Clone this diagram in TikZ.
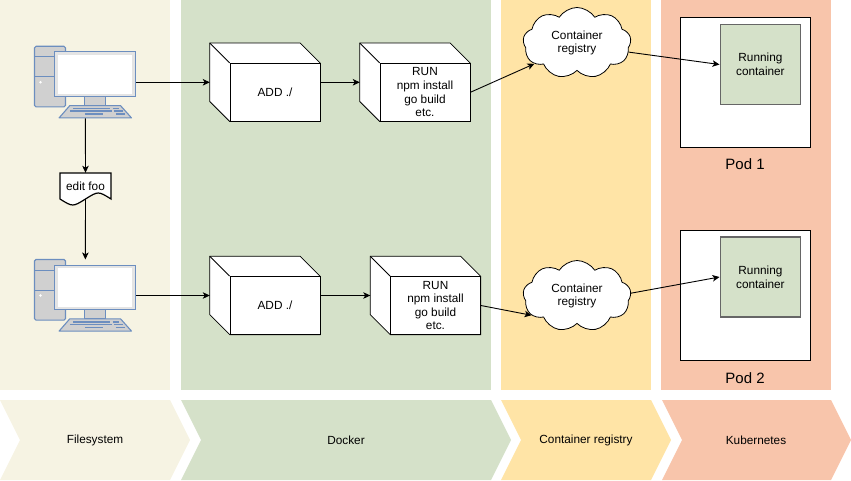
\documentclass[tikz,border=0pt]{standalone}
\usepackage{fontspec}
\setmainfont{Liberation Sans}
\usetikzlibrary{arrows.meta,shapes.symbols,calc}
\definecolor{fscol}{HTML}{F6F3E3}
\definecolor{dkcol}{HTML}{D5E1C9}
\definecolor{rgcol}{HTML}{FFE4A6}
\definecolor{kbcol}{HTML}{F8C5AB}
\definecolor{pcblue}{HTML}{6C8EBF}
\definecolor{pcgrey}{HTML}{D0D0D0}
\definecolor{pcband}{HTML}{E4E4E4}
\definecolor{rungrey}{HTML}{666666}
\tikzset{
  conn/.style={draw=black, line width=0.9pt, -{Stealth[length=7pt,width=6.5pt,inset=1.8pt]}},
  lbl/.style={font=\fontsize{11.8}{13.6}\selectfont, align=center, text=black},
  cubebox/.style={minimum width=110, minimum height=78, inner sep=0},
  cubeline/.style={draw=black, fill=white, line width=0.8pt, line join=miter},
  frontface/.style={lbl, draw=black, fill=white, line width=0.8pt, minimum width=90, minimum height=58, inner sep=0},
  pcbox/.style={minimum width=101.3, minimum height=71.6, inner sep=0},
  pcline/.style={draw=pcblue, line width=1.1pt},
  docbox/.style={lbl, minimum width=51, minimum height=26, inner sep=0},
  cloudbox/.style={lbl, cloud, cloud puffs=9, cloud puff arc=115, cloud ignores aspect, draw=black, fill=white, line width=0.8pt, minimum width=108, minimum height=71, inner sep=0},
  podbox/.style={draw=black, fill=white, line width=0.8pt, minimum width=130.7, minimum height=130, inner sep=0},
  runbox/.style={lbl, draw=rungrey, fill=dkcol, line width=1.1pt, minimum width=80.7, minimum height=80, inner sep=0},
  podlbl/.style={font=\fontsize{15}{18}\selectfont, text=black},
  steplbl/.style={lbl}
}
\newcommand\mycube[4]{%
  \node[cubebox] (#1) at (#2,#3) {};
  \filldraw[cubeline] (#1.north west) -- ([xshift=-20pt]#1.north east) -- ([yshift=-20pt]#1.north east) -- (#1.south east) -- ([xshift=20pt]#1.south west) -- ([yshift=20pt]#1.south west) -- cycle;
  \node[frontface] (#1f) at ([shift={(10pt,-10pt)}]#1.center) {#4};
  \draw[line width=0.8pt] (#1.north west) -- (#1f.north west);
}
\newcommand\mycomputer[3]{%
  \node[pcbox] (#1) at (#2,#3) {};
  \begin{scope}[shift={(#1.north west)}]
    \filldraw[pcline, fill=pcgrey, rounded corners=1.5pt] (0,0) rectangle (31,60.6);
    \draw[pcline] (0,10.6) -- (31,10.6) (0,30.6) -- (31,30.6);
    \fill[white] (6,36) circle (1.4pt);
    \filldraw[pcline, fill=pcband] (19.6,5.6) rectangle (101.3,50);
    \fill[white] (23.6,8.6) rectangle (97.6,47.3);
    \filldraw[pcline, fill=pcgrey] (50.3,50) rectangle (71.3,59.3);
    \filldraw[pcline, fill=pcgrey, line join=round] (35.3,59.3) -- (86,59.3) -- (97,71.6) -- (24.6,71.6) -- cycle;
    \draw[pcblue, line width=1.6pt] (38.6,62.2) -- (75.3,62.2) (78,62.2) -- (84.6,62.2)
      (35.3,65) -- (77,65) (79.3,65) -- (88,65)
      (50.3,68) -- (68,68) (81.3,68) -- (90.3,68);
  \end{scope}
}
\begin{document}
\begin{tikzpicture}[x=1pt,y=-1pt]
\useasboundingbox (0,0) rectangle (851,481);
% columns
\fill[fscol] (0,0) rectangle (170,390);
\fill[dkcol] (181,0) rectangle (491,390);
\fill[rgcol] (501,0) rectangle (651,390);
\fill[kbcol] (661,0) rectangle (831,390);
% step chevrons
\fill[fscol] (0,400) -- (170,400) -- (190,440) -- (170,480) -- (0,480) -- (20,440) -- cycle;
\fill[dkcol] (181,400) -- (491,400) -- (511,440) -- (491,480) -- (181,480) -- (201,440) -- cycle;
\fill[rgcol] (501,400) -- (651,400) -- (671,440) -- (651,480) -- (501,480) -- (521,440) -- cycle;
\fill[kbcol] (662,400) -- (831,400) -- (851,440) -- (831,480) -- (662,480) -- (682,440) -- cycle;
\node[steplbl] (s1) at (95,440) {Filesystem};
\node[steplbl] (s2) at (346,440) {Docker};
\node[steplbl] (s3) at (586,440) {Container registry};
\node[steplbl] (s4) at (756,440) {Kubernetes};
% pods
\node[podbox] (p1) at (745.3,82) {};
\node[runbox] (r1) at (760.4,64.5) {Running\\container};
\node[podlbl] (pl1) at (745,164) {Pod 1};
\node[podbox] (p2) at (745.3,295.3) {};
\node[runbox] (r2) at (760.4,277) {Running\\container};
\node[podlbl] (pl2) at (745,378) {Pod 2};
% computers
\mycomputer{pc1}{85.35}{82.3}
\mycomputer{pc2}{85.35}{295.5}
% cubes
\mycube{k1}{265}{82.3}{ADD ./}
\mycube{k2}{415}{82.3}{RUN\\npm install\\go build\\etc.}
\mycube{k3}{265}{295.5}{ADD ./}
\mycube{k4}{425.5}{295.5}{RUN\\npm install\\go build\\etc.}
% clouds
\node[cloudbox] (cl1) at (577,43) {Container\\registry};
\node[cloudbox] (cl2) at (577,296) {Container\\registry};
% document
\node[docbox] (d) at (85.5,186) {};
\filldraw[draw=black, fill=white, line width=1.2pt, line join=miter] (60,199) -- (60,173) -- (111,173) -- (111,199) .. controls (98.25,191) .. (85.5,199) .. controls (72.75,207) .. (60,199) -- cycle;
\node[lbl] at (d.center) {edit foo};
% connectors
\draw[conn] (pc1.east) -- (k1.west);
\draw[conn] (k1.east) -- (k2.west);
\draw[conn] (k2f.east) -- (cl1.206);
\draw[conn] (cl1.350) -- (r1.west);
\draw[conn] (pc1.south) -- (d.north);
\draw[conn] (d.south) -- (pc2.north);
\draw[conn] (pc2.east) -- (k3.west);
\draw[conn] (k3.east) -- (k4.west);
\draw[conn] (k4f.east) -- (cl2.203);
\draw[conn] (cl2.3) -- (r2.west);
\end{tikzpicture}
\end{document}
